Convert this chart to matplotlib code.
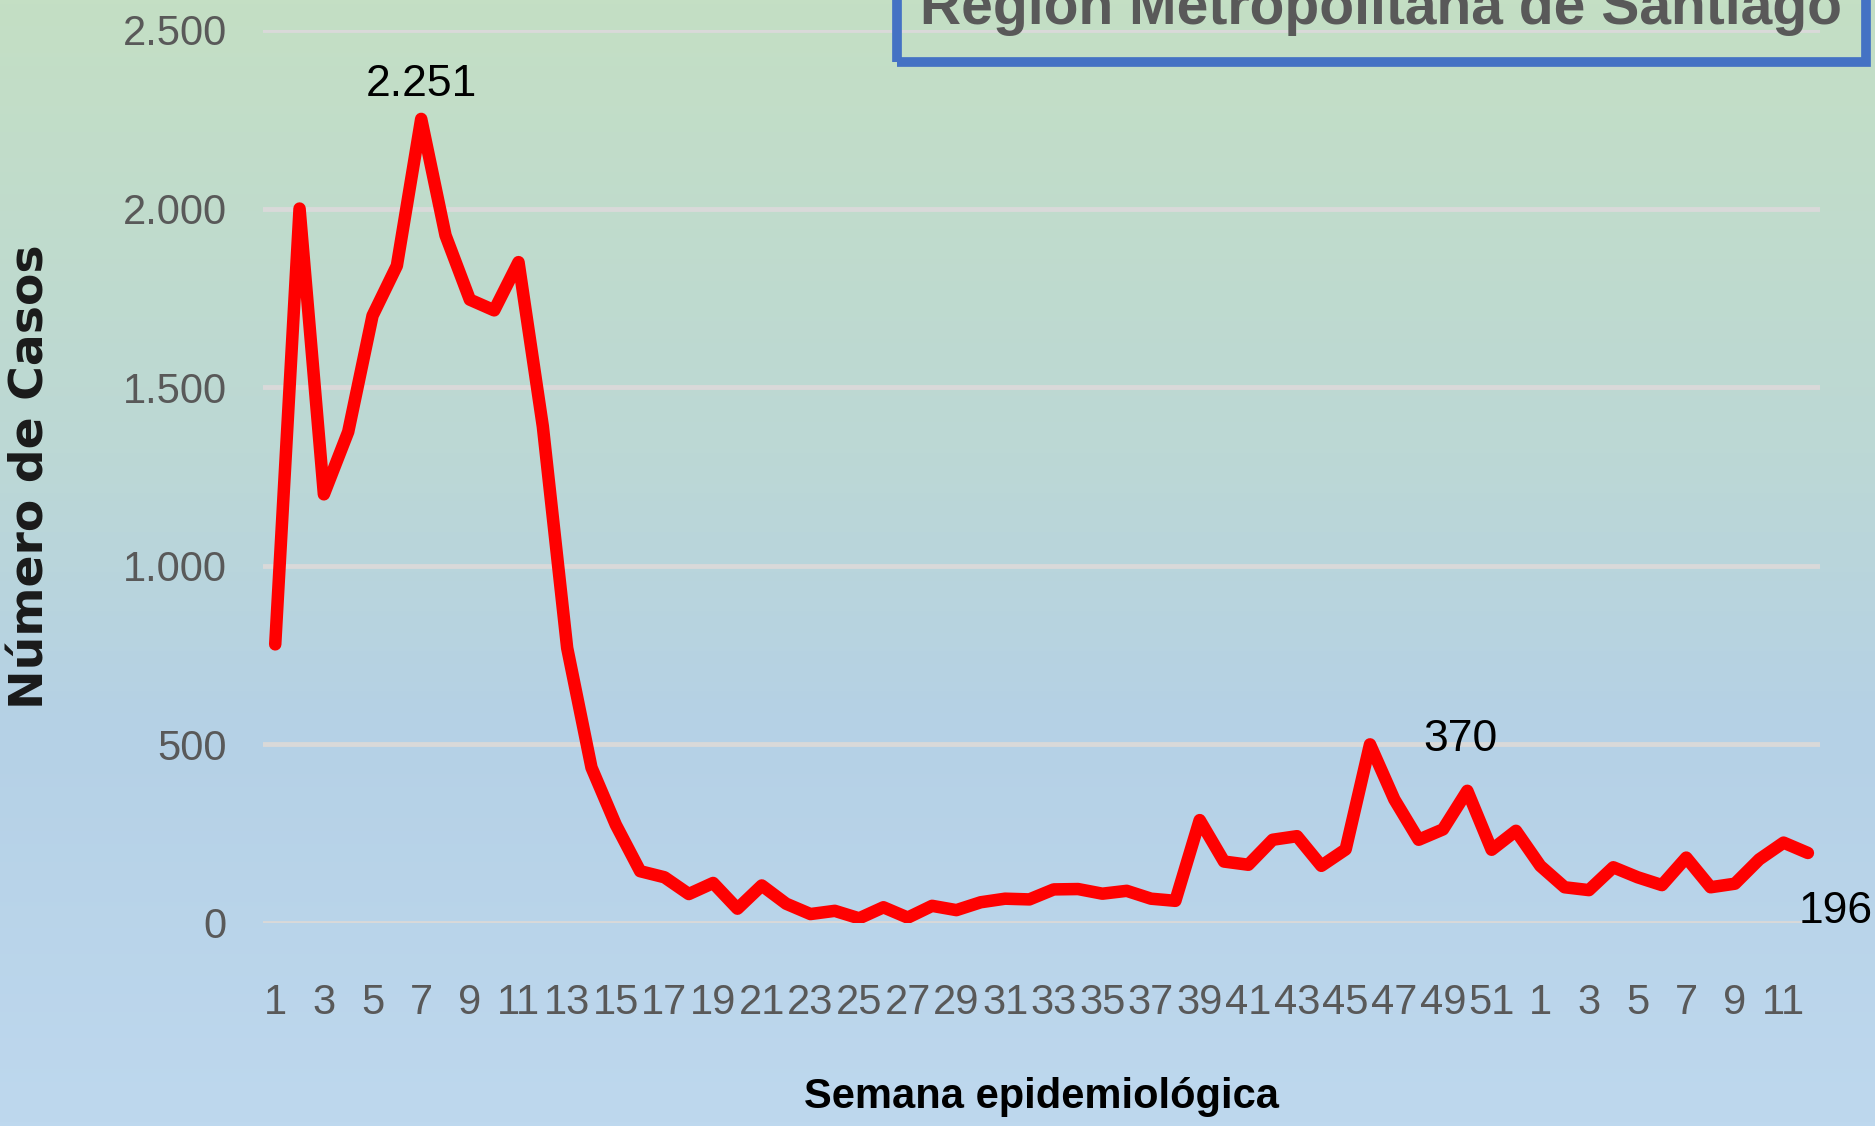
import numpy as np
import matplotlib
matplotlib.use("Agg")
import matplotlib.pyplot as plt
from matplotlib.colors import LinearSegmentedColormap
from matplotlib.patches import Rectangle

# semanas epidemiologicas: 1..52 y luego 1..12 del año siguiente
weeks = list(range(1, 53)) + list(range(1, 13))
cases = [780, 2000, 1200, 1375, 1700, 1840, 2251, 1925, 1745, 1715,
         1850, 1390, 770, 435, 275, 145, 128, 81, 112, 40,
         105, 54, 25, 34, 13, 44, 15, 48, 36, 58,
         68, 66, 94, 95, 82, 90, 68, 62, 288, 172,
         163, 233, 243, 160, 206, 500, 346, 233, 262, 370,
         205, 258, 160, 100, 92, 156, 128, 106, 183, 100,
         110, 178, 225, 196]
labeled = {6: "2.251", 49: "370", 63: "196"}
yticks = [0, 500, 1000, 1500, 2000, 2500]
ytick_labels = ["0", "500", "1.000", "1.500", "2.000", "2.500"]

sans = ["Liberation Sans", "DejaVu Sans"]

fig = plt.figure(figsize=(18.75, 11.26), dpi=100)

# fondo degradado verde -> azul en toda la figura
bg = fig.add_axes([0, 0, 1, 1], zorder=0)
cmap = LinearSegmentedColormap.from_list(
    "bg", [(0.0, (196/255, 223/255, 196/255)),
           (0.4, (188/255, 216/255, 213/255)),
           (0.65, (181/255, 209/255, 230/255)),
           (1.0, (190/255, 216/255, 238/255))])
bg.imshow(np.linspace(0, 1, 256).reshape(-1, 1), aspect="auto", cmap=cmap,
          extent=[0, 1, 0, 1], origin="upper")
bg.set_axis_off()

ax = fig.add_axes([0.1403, 0.1803, 0.8304, 0.7931], zorder=1)
ax.patch.set_alpha(0)
x = np.arange(len(cases))
ax.plot(x, cases, color="#FF0000", lw=9, solid_capstyle="round",
        solid_joinstyle="round", zorder=3)

ax.set_xlim(-0.5, len(cases) - 0.5)
ax.set_ylim(0, 2500)
ax.set_yticks(yticks)
ax.set_yticklabels(ytick_labels, family=sans, fontsize=30, color="#595959")
ax.set_xticks(x[::2])
ax.set_xticklabels([str(w) for w in weeks[::2]], family=sans,
                   fontsize=30, color="#595959")
ax.tick_params(axis="y", length=0, pad=26)
ax.tick_params(axis="x", length=0, pad=43)
ax.grid(axis="y", color="#D9D9D9", lw=3.5, zorder=1)
for s in ax.spines.values():
    s.set_visible(False)

offsets = {6: (0, 25), 49: (-5, 37), 63: (20, -42)}
for i, txt in labeled.items():
    ax.annotate(txt, (x[i], cases[i]), xytext=offsets[i],
                textcoords="offset points", ha="center", va="center",
                fontsize=32, family=sans, color="#000000",
                annotation_clip=False)

ax.set_xlabel("Semana epidemiológica", family=sans, fontsize=30,
              fontweight="bold", color="#000000", labelpad=39)
fig.text(0.0165, 0.577, "Número de Casos", rotation=90, ha="center",
         va="center", fontsize=34, fontweight="bold", color="#1A1A1A",
         family="DejaVu Sans")

# recuadro del titulo, cortado arriba como en la imagen original
fig.patches.append(Rectangle((897/1875, 1 - 62/1126), (1866-897)/1875,
                             0.2, transform=fig.transFigure, fill=False,
                             edgecolor="#4472C4", lw=7, zorder=5))
fig.text((915 + 1848) / 2 / 1875, 1 - 24/1126,
         "Región Metropolitana de Santiago", ha="center", va="baseline",
         fontsize=41, fontweight="bold", color="#595959", family=sans,
         zorder=6)

fig.savefig("out.png", dpi=100)
